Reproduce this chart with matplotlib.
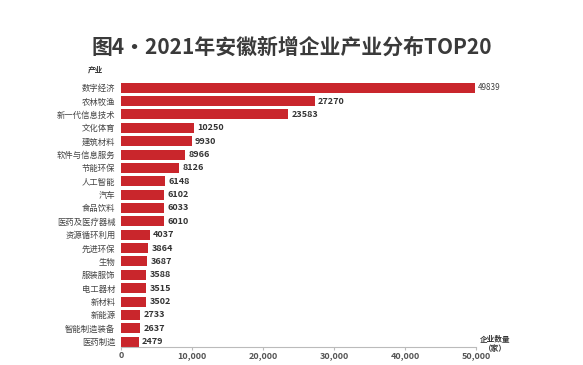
import matplotlib
matplotlib.use("Agg")
import matplotlib.pyplot as plt

plt.rcParams['font.family'] = ['Noto Sans CJK SC', 'DejaVu Sans']

categories = ["数字经济", "农林牧渔", "新一代信息技术", "文化体育", "建筑材料", "软件与信息服务",
              "节能环保", "人工智能", "汽车", "食品饮料", "医药及医疗器械", "资源循环利用",
              "先进环保", "生物", "服装服饰", "电工器材", "新材料", "新能源", "智能制造装备", "医药制造"]
values = [49839, 27270, 23583, 10250, 9930, 8966, 8126, 6148, 6102, 6033, 6010, 4037,
          3864, 3687, 3588, 3515, 3502, 2733, 2637, 2479]
xticks = [0, 10000, 20000, 30000, 40000, 50000]
title = "图4·2021年安徽新增企业产业分布TOP20"

W, H = 583, 365
fig = plt.figure(figsize=(W / 100, H / 100), dpi=100)
left, right, top, bottom = 121, 476, 81, 347
ax = fig.add_axes([left / W, 1 - bottom / H, (right - left) / W, (bottom - top) / H])

y = list(range(len(categories)))
ax.barh(y, values, height=0.75, color='#c9262c')
ax.set_ylim(19.4, -0.5)
ax.set_xlim(0, 50000)
for i, (yi, v) in enumerate(zip(y, values)):
    if i == 0:
        ax.text(v + 400, yi, str(v), va='center', ha='left', fontsize=5.8,
                fontweight='normal', color='#444444')
    else:
        ax.text(v + 500, yi, str(v), va='center', ha='left', fontsize=6.5,
                fontweight='bold', color='#333333')
ax.set_yticks(y)
ax.set_yticklabels(categories, fontsize=6, color='#444444')
ax.tick_params(axis='y', length=0, pad=4)
ax.set_xticks(xticks)
ax.set_xticklabels([f"{t:,}" for t in xticks], fontsize=6.5, color='#555555', fontweight='bold')
ax.tick_params(axis='x', length=2, color='#bbbbbb', pad=1)
for s in ['top', 'right', 'left']:
    ax.spines[s].set_visible(False)
ax.spines['bottom'].set_color('#bbbbbb')
ax.spines['bottom'].set_linewidth(0.8)

fig.text(0.5, 1 - 47 / H, title, ha='center', va='center', fontsize=15,
         fontweight='bold', color='#3a3a3a')
fig.text(95 / W, 1 - 70 / H, "产业", ha='center', va='center', fontsize=5.5,
         fontweight='bold', color='#333333')
fig.text(495 / W, 1 - 344 / H, "企业数量\n（家）", ha='center', va='center', fontsize=5.5,
         fontweight='bold', color='#333333', linespacing=1.1)

fig.savefig("out.png", dpi=100, facecolor='white')
